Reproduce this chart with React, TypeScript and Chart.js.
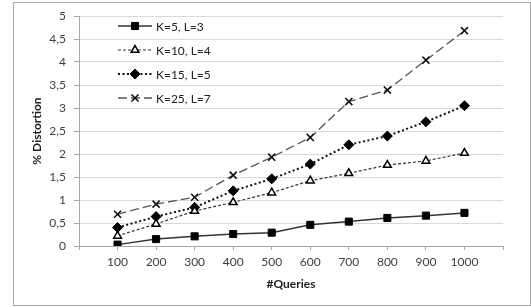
import React, { useEffect, useRef } from 'react';
import { Chart, registerables } from 'chart.js';
import { drawPoint } from 'chart.js/helpers';

Chart.register(...registerables);

const queries = [100, 200, 300, 400, 500, 600, 700, 800, 900, 1000];
const k5l3 = [0.03, 0.15, 0.21, 0.26, 0.29, 0.46, 0.53, 0.61, 0.66, 0.72];
const k10l4 = [0.22, 0.48, 0.76, 0.95, 1.16, 1.42, 1.58, 1.76, 1.85, 2.02];
const k15l5 = [0.4, 0.64, 0.84, 1.2, 1.46, 1.78, 2.2, 2.39, 2.7, 3.05];
const k25l7 = [0.69, 0.91, 1.06, 1.54, 1.93, 2.36, 3.14, 3.39, 4.04, 4.68];
const seriesLabels = ['K=5, L=3', 'K=10, L=4', 'K=15, L=5', 'K=25, L=7'];
const xTitle = '#Queries';
const yTitle = '% Distortion';

const FONT = 'Lato, "Open Sans", "DejaVu Sans", sans-serif';

const pts = (vals: number[]) => vals.map((v, i) => ({ x: queries[i], y: v }));

const legendPlugin = {
  id: 'insideLegend',
  afterDraw(chart: any) {
    const ctx = chart.ctx;
    const left = chart.chartArea.left;
    const top = chart.chartArea.top;
    chart.data.datasets.forEach((ds: any, i: number) => {
      const y = top + 10 + i * 24;
      const x0 = left + 39;
      const x1 = left + 73;
      ctx.save();
      ctx.strokeStyle = ds.borderColor;
      ctx.lineWidth = ds.borderWidth;
      ctx.setLineDash(ds.borderDash || []);
      ctx.beginPath();
      ctx.moveTo(x0, y);
      ctx.lineTo(x1, y);
      ctx.stroke();
      ctx.setLineDash([]);
      ctx.fillStyle = ds.pointBackgroundColor;
      ctx.strokeStyle = ds.pointBorderColor;
      ctx.lineWidth = ds.pointBorderWidth;
      drawPoint(ctx, { pointStyle: ds.pointStyle, radius: ds.pointRadius, rotation: 0, borderWidth: ds.pointBorderWidth } as any, (x0 + x1) / 2, y);
      ctx.fillStyle = '#222';
      ctx.font = `12px ${FONT}`;
      ctx.textBaseline = 'middle';
      ctx.textAlign = 'left';
      ctx.fillText(ds.label, x1 + 4, y + 1);
      ctx.restore();
    });
  },
};

const borderPlugin = {
  id: 'outerBorder',
  afterDraw(chart: any) {
    const ctx = chart.ctx;
    ctx.save();
    ctx.strokeStyle = '#a6a6a6';
    ctx.lineWidth = 1;
    ctx.strokeRect(13.5, 2.5, 517, 303);
    ctx.restore();
  },
};

export default function App() {
  const ref = useRef<HTMLCanvasElement>(null);
  useEffect(() => {
    if (!ref.current) return;
    const chart = new Chart(ref.current, {
      type: 'line',
      data: {
        datasets: [
          {
            label: seriesLabels[0],
            data: pts(k5l3),
            borderColor: '#333',
            borderWidth: 1.5,
            pointStyle: 'rect',
            pointRadius: 5,
            pointBackgroundColor: '#000',
            pointBorderColor: '#000',
            pointBorderWidth: 1,
          },
          {
            label: seriesLabels[1],
            data: pts(k10l4),
            borderColor: '#333',
            borderWidth: 1.2,
            borderDash: [3, 2],
            pointStyle: 'triangle',
            pointRadius: 4.5,
            pointBackgroundColor: '#fff',
            pointBorderColor: '#000',
            pointBorderWidth: 1.5,
          },
          {
            label: seriesLabels[2],
            data: pts(k15l5),
            borderColor: '#111',
            borderWidth: 2,
            borderDash: [2, 2.5],
            pointStyle: 'rectRot',
            pointRadius: 5,
            pointBackgroundColor: '#000',
            pointBorderColor: '#000',
            pointBorderWidth: 1,
          },
          {
            label: seriesLabels[3],
            data: pts(k25l7),
            borderColor: '#555',
            borderWidth: 1.3,
            borderDash: [9, 4],
            pointStyle: 'crossRot',
            pointRadius: 5,
            pointBackgroundColor: '#000',
            pointBorderColor: '#111',
            pointBorderWidth: 1.6,
          },
        ] as any,
      },
      options: {
        responsive: false,
        animation: false,
        events: [],
        layout: { padding: { left: 30, top: 16, right: 28, bottom: 16 } },
        plugins: { legend: { display: false }, tooltip: { enabled: false } },
        scales: {
          x: {
            type: 'linear',
            min: 0,
            max: 1100,
            afterFit: (s: any) => { s.height = 45; },
            ticks: {
              stepSize: 100,
              autoSkip: false,
              maxRotation: 0,
              padding: 5,
              color: '#404040',
              font: { family: FONT, size: 12 },
              callback: (v: any) => (v === 0 || v === 1100 ? '' : String(v)),
            },
            grid: { drawOnChartArea: false, drawTicks: true, tickLength: 4, tickColor: '#a6a6a6' },
            border: { color: '#a6a6a6' },
            title: {
              display: true,
              text: xTitle,
              color: '#222',
              padding: 0,
              font: { family: FONT, size: 12, weight: 'bold' },
            },
          },
          y: {
            min: 0,
            max: 5,
            afterFit: (s: any) => { s.width = 49; },
            ticks: {
              stepSize: 0.5,
              padding: 8,
              color: '#404040',
              font: { family: FONT, size: 12 },
              callback: (v: any) => String(v).replace('.', ','),
            },
            grid: { color: '#d9d9d9', tickLength: 5, tickColor: '#a6a6a6' },
            border: { color: '#a6a6a6' },
            title: {
              display: true,
              text: yTitle,
              color: '#222',
              padding: 0,
              font: { family: FONT, size: 12, weight: 'bold' },
            },
          },
        },
      } as any,
      plugins: [legendPlugin, borderPlugin],
    });
    return () => chart.destroy();
  }, []);
  return (
    <div style={{ position: 'fixed', left: 0, top: 0, width: 531, height: 307, background: '#fff' }}>
      <canvas ref={ref} width={531} height={307} style={{ display: 'block' }} />
    </div>
  );
}
